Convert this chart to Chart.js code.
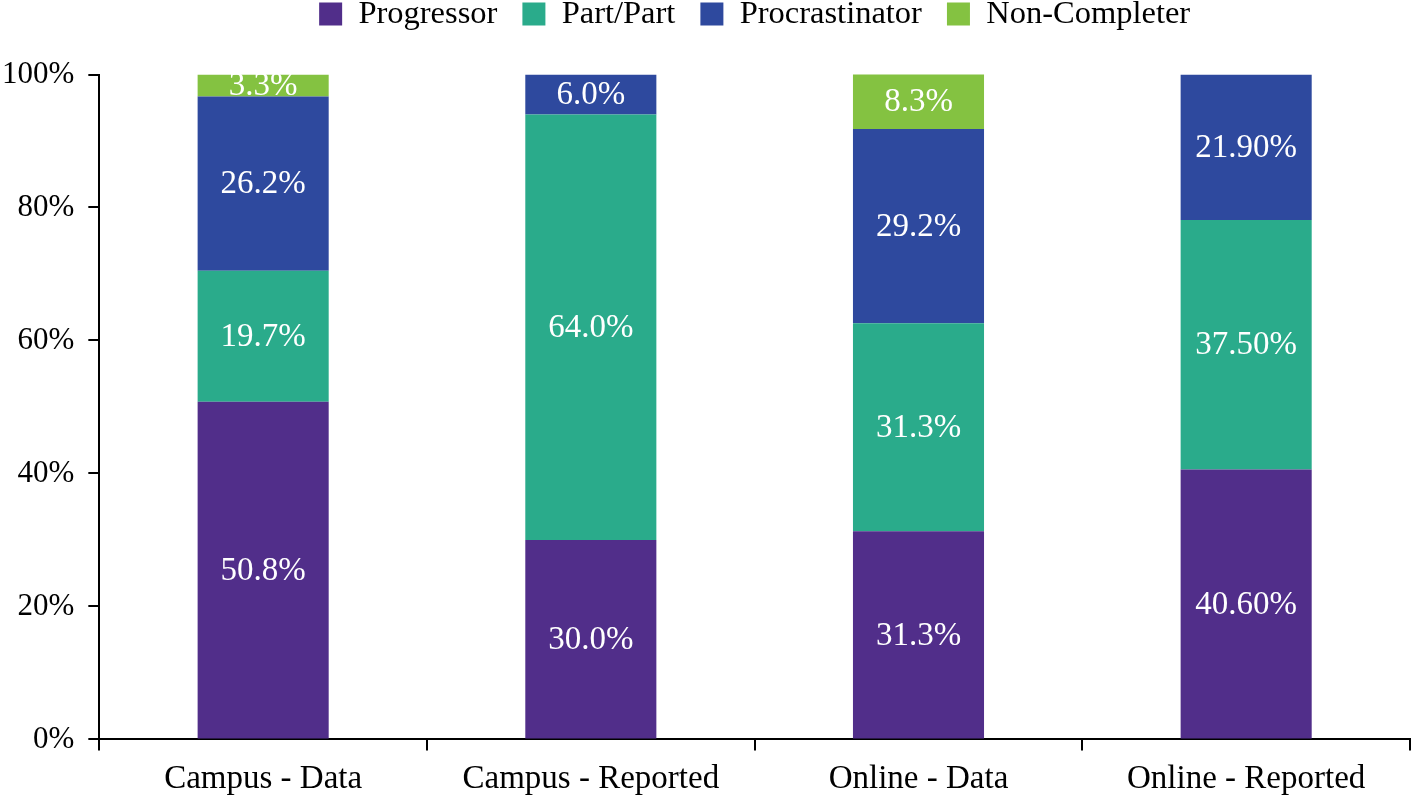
<!DOCTYPE html>
<html lang="en">
<head>
    <meta charset="UTF-8">
    <title>Student types - stacked bars</title>
    <script src="https://cdn.jsdelivr.net/npm/chart.js"></script>
    <style>
        html, body {
            margin: 0;
            padding: 0;
            background: #ffffff;
        }
        #chart-container {
            width: 1413px;
            height: 797px;
        }
    </style>
</head>
<body>
    <div id="chart-container">
        <canvas id="chart"></canvas>
    </div>

    <script>
        // categories and series (percent)
        const categories = ['Campus - Data', 'Campus - Reported', 'Online - Data', 'Online - Reported'];
        const progressor     = [50.8, 30.0, 31.3, 40.6];
        const partPart       = [19.7, 64.0, 31.3, 37.5];
        const procrastinator = [26.2, 6.0, 29.2, 21.9];
        const nonCompleter   = [3.3, null, 8.3, null];

        // labels as printed on the bars
        const progressorLabels     = ['50.8%', '30.0%', '31.3%', '40.60%'];
        const partPartLabels       = ['19.7%', '64.0%', '31.3%', '37.50%'];
        const procrastinatorLabels = ['26.2%', '6.0%', '29.2%', '21.90%'];
        const nonCompleterLabels   = ['3.3%', '', '8.3%', ''];

        const yTicks = [0, 20, 40, 60, 80, 100];

        const FONT = "'Liberation Serif', 'Times New Roman', serif";
        const LEGEND_SIZE = 32.5;
        const LEGEND_PAD = 25;

        // value labels in the middle of each segment
        const segmentLabels = {
            id: 'segmentLabels',
            afterDatasetsDraw(chart) {
                const ctx = chart.ctx;
                ctx.save();
                ctx.font = `33px ${FONT}`;
                ctx.fillStyle = '#ffffff';
                ctx.textAlign = 'center';
                ctx.textBaseline = 'middle';
                chart.data.datasets.forEach((ds, i) => {
                    const meta = chart.getDatasetMeta(i);
                    meta.data.forEach((bar, j) => {
                        const text = ds.valueLabels[j];
                        if (!text || ds.data[j] == null) return;
                        const { x, y, base } = bar.getProps(['x', 'y', 'base'], true);
                        ctx.fillText(text, x, (y + base) / 2 + 1);
                    });
                });
                ctx.restore();
            }
        };

        // legend sits high at the top, centred over the plot area
        const legendPlacement = {
            id: 'legendPlacement',
            beforeDraw(chart) {
                const lg = chart.legend;
                if (!lg) return;
                lg.left = chart.chartArea.left;
                lg.right = chart.chartArea.right;
                lg.top = 14 - LEGEND_PAD - LEGEND_SIZE / 2;
            }
        };

        const ctx = document.getElementById('chart').getContext('2d');

        new Chart(ctx, {
            type: 'bar',
            data: {
                labels: categories,
                datasets: [
                    { label: 'Progressor', data: progressor, valueLabels: progressorLabels, backgroundColor: '#512e8a' },
                    { label: 'Part/Part', data: partPart, valueLabels: partPartLabels, backgroundColor: '#2aab8b' },
                    { label: 'Procrastinator', data: procrastinator, valueLabels: procrastinatorLabels, backgroundColor: '#2e499e' },
                    { label: 'Non-Completer', data: nonCompleter, valueLabels: nonCompleterLabels, backgroundColor: '#84c241' }
                ]
            },
            options: {
                responsive: true,
                maintainAspectRatio: false,
                animation: false,
                datasets: {
                    bar: {
                        barPercentage: 0.4,
                        categoryPercentage: 1.0,
                        borderWidth: 0
                    }
                },
                layout: {
                    padding: { left: -12, right: 3, top: 7, bottom: -11 }
                },
                plugins: {
                    legend: {
                        position: 'top',
                        labels: {
                            boxWidth: 23,
                            boxHeight: 23,
                            padding: LEGEND_PAD,
                            color: '#000000',
                            font: { family: FONT, size: LEGEND_SIZE }
                        }
                    },
                    tooltip: { enabled: false }
                },
                scales: {
                    x: {
                        stacked: true,
                        border: { display: true, color: '#000000', width: 2 },
                        grid: {
                            display: true,
                            offset: true,
                            drawOnChartArea: false,
                            drawTicks: true,
                            tickLength: 11,
                            color: '#000000',
                            lineWidth: 2
                        },
                        ticks: {
                            color: '#000000',
                            padding: 9,
                            font: { family: FONT, size: 33 }
                        }
                    },
                    y: {
                        stacked: true,
                        min: 0,
                        max: 100,
                        afterBuildTicks(scale) {
                            scale.ticks = yTicks.map(v => ({ value: v }));
                        },
                        border: { display: true, color: '#000000', width: 2 },
                        grid: {
                            display: true,
                            drawOnChartArea: false,
                            drawTicks: true,
                            tickLength: 11,
                            color: '#000000',
                            lineWidth: 2
                        },
                        ticks: {
                            color: '#000000',
                            padding: 14,
                            font: { family: FONT, size: 31 },
                            callback: v => v + '%'
                        }
                    }
                }
            },
            plugins: [segmentLabels, legendPlacement]
        });
    </script>
</body>
</html>
